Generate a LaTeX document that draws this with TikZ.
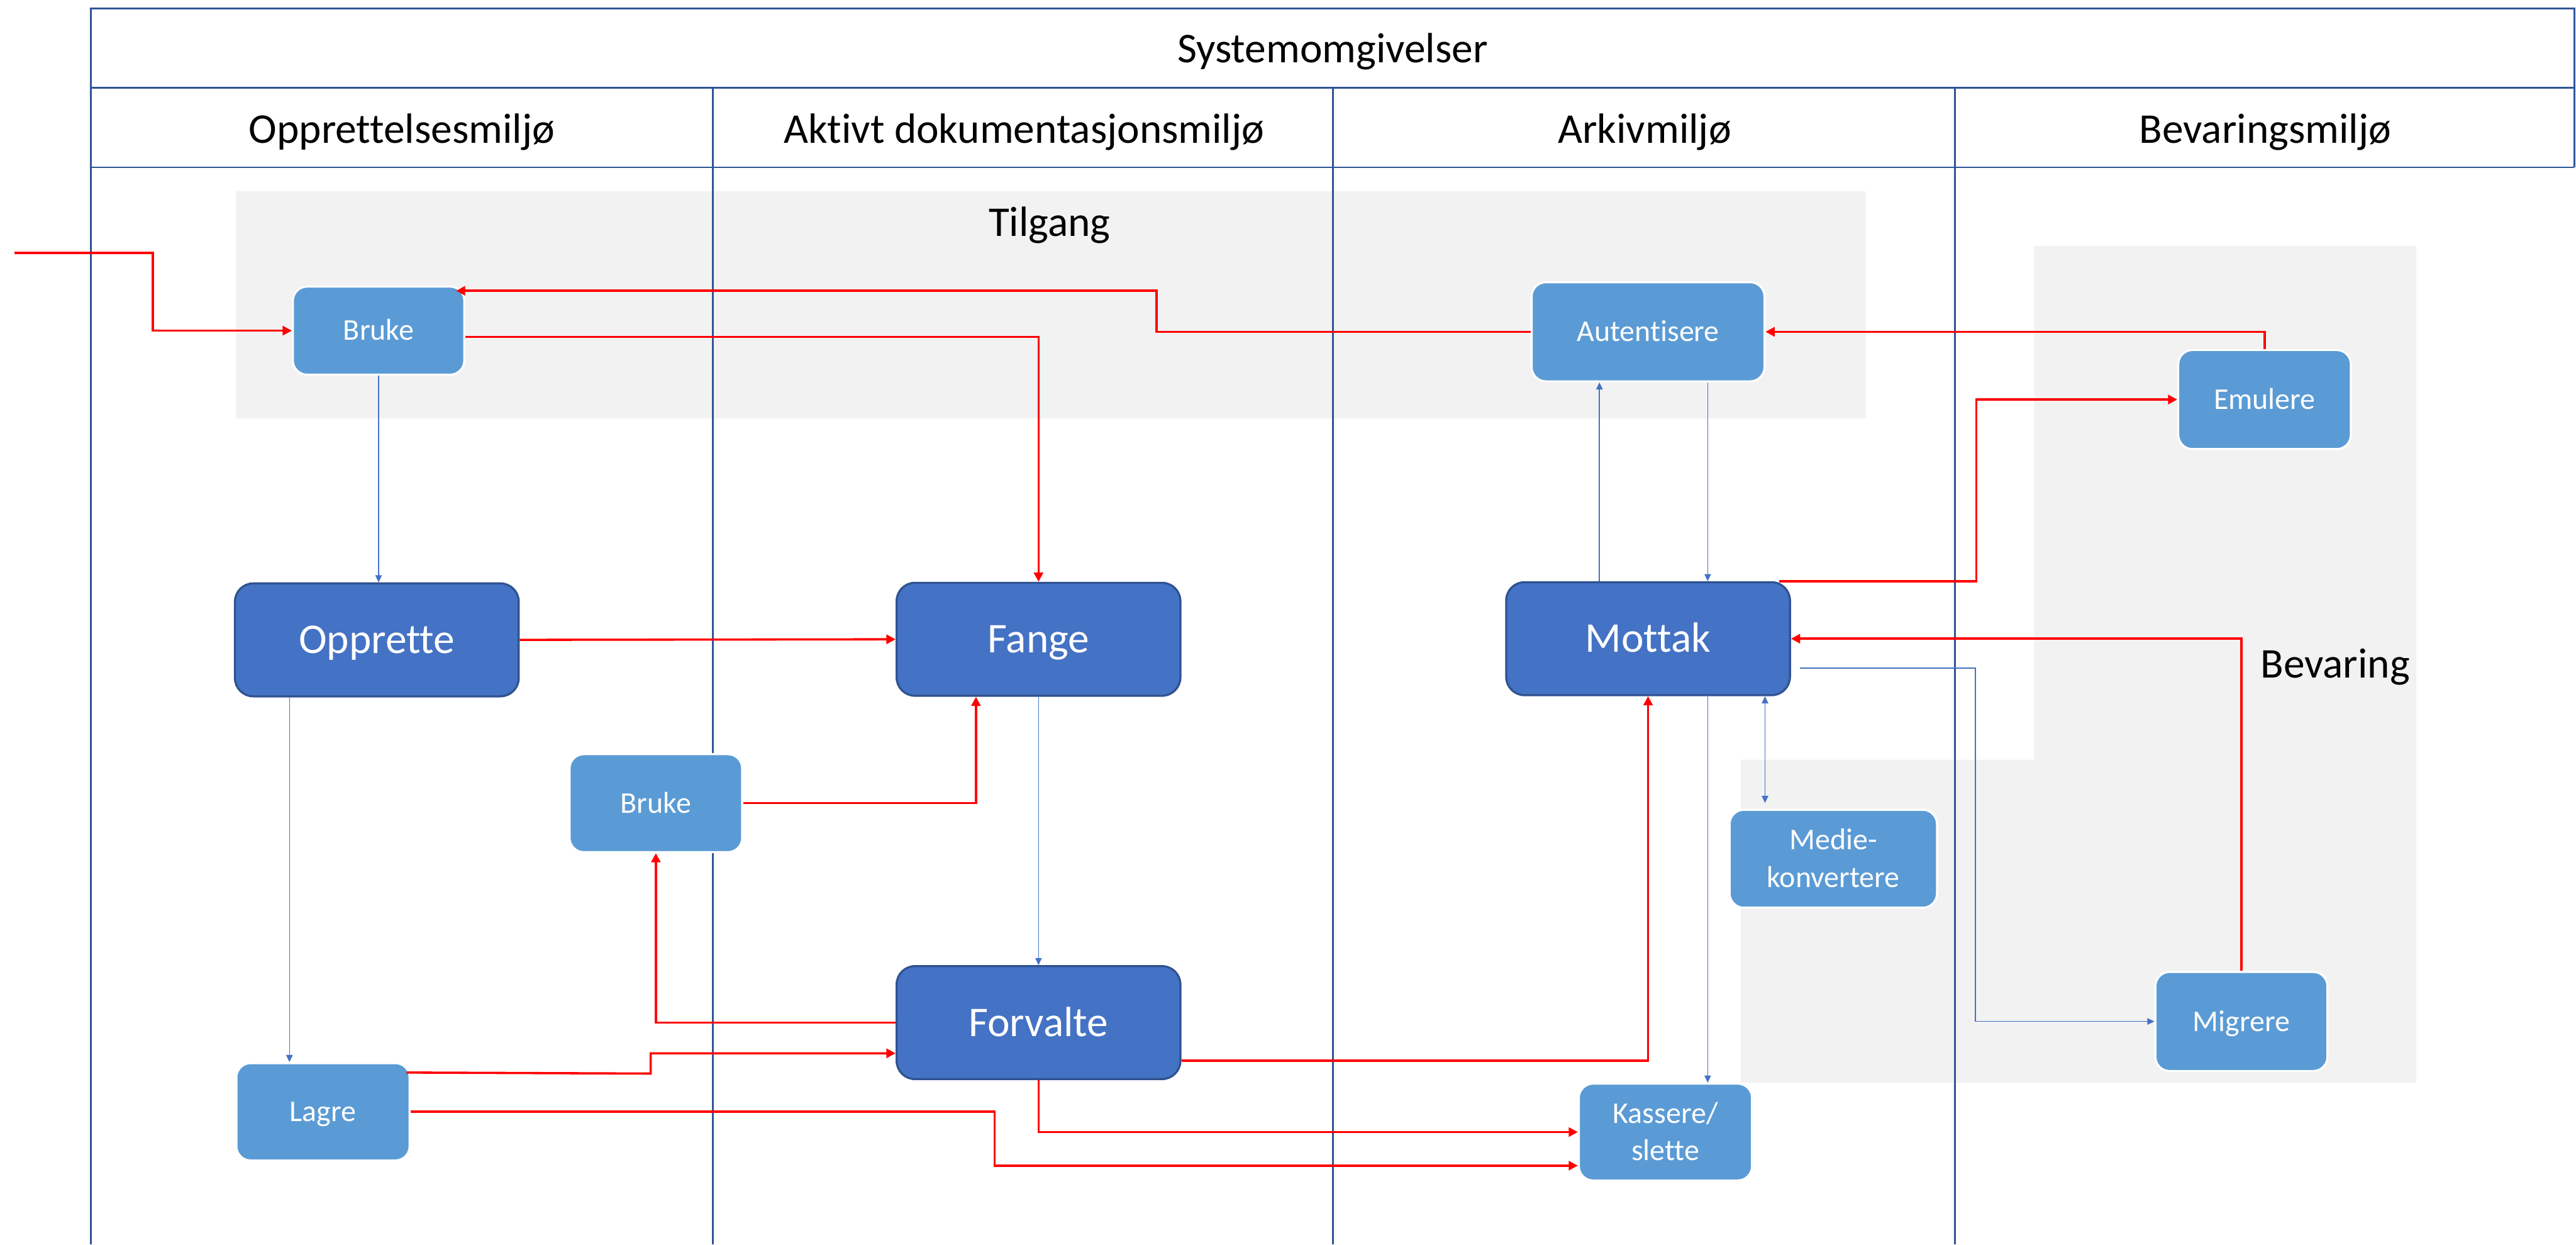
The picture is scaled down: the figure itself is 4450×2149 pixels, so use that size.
\documentclass[tikz,border=0pt]{standalone}
\usepackage{fontspec}
\setmainfont{Carlito}[Ligatures={NoCommon}]
\usetikzlibrary{arrows.meta,calc}
\definecolor{frameblue}{HTML}{2F5597}
\definecolor{boxlight}{HTML}{5B9BD5}
\definecolor{boxdark}{HTML}{4472C4}
\definecolor{boxdarkline}{HTML}{2F528F}
\definecolor{regiongray}{HTML}{F2F2F2}
\definecolor{conblue}{HTML}{4472C4}
\definecolor{conred}{HTML}{FF0000}
\begin{document}
\begin{tikzpicture}[x=0.01cm,y=-0.01cm,
 frameline/.style={draw=frameblue,line width=0.9pt},
 headtext/.style={font=\fontsize{20.8}{25}\selectfont,anchor=base,inner sep=0pt},
 smallbox/.style={rectangle,rounded corners=7pt,fill=boxlight,draw=white,line width=1pt,text=white,
   font=\fontsize{14.8}{18.3}\selectfont,align=center,text height=9.5pt,text depth=0pt,inner sep=0pt},
 twoline/.style={text height=27.8pt},
 bigbox/.style={rectangle,rounded corners=9pt,fill=boxdark,draw=boxdarkline,line width=1pt,text=white,
   font=\fontsize{20.8}{25}\selectfont,text height=13.4pt,text depth=0pt,inner sep=0pt,
   minimum width=4.9cm,minimum height=1.95cm},
 redcon/.style={draw=conred,line width=1.1pt,-{Triangle[length=4.5pt,width=4.5pt]}},
 bluecon/.style={draw=conblue,line width=0.45pt,-{Triangle[length=3.5pt,width=3.2pt]}},
 bluedbl/.style={draw=conblue,line width=0.45pt,{Triangle[length=3.5pt,width=3.2pt]}-{Triangle[length=3.5pt,width=3.2pt]}},
]
\useasboundingbox (0,0) rectangle (4450,2149);
% grey regions
\fill[regiongray] (407,330) rectangle (3223,723);
\fill[regiongray] (3514,425) -- (4174,425) -- (4174,1870) -- (3007,1870) -- (3007,1312) -- (3514,1312) -- cycle;
% frame
\draw[frameline] (157,2149) -- (157,15) -- (4447,15) -- (4447,289);
\draw[frameline] (157,152) -- (4447,152);
\draw[frameline] (157,289) -- (4447,289);
\foreach \x in {1231,2303,3377} \draw[frameline] (\x,152) -- (\x,2149);
% texts
\node[headtext] (title) at (2302,108) {Systemomgivelser};
\node[headtext] (h1) at (694,247) {Opprettelsesmiljø};
\node[headtext] (h2) at (1769,247) {Aktivt dokumentasjonsmiljø};
\node[headtext] (h3) at (2841,247) {Arkivmiljø};
\node[headtext] (h4) at (3913,247) {Bevaringsmiljø};
\node[headtext] (tilgang) at (1813,408) {Tilgang};
\node[headtext] (bevaring) at (4034,1171) {Bevaring};
% nodes
\node[smallbox,minimum width=2.96cm,minimum height=1.52cm] (bruke1) at (654,571) {Bruke};
\node[smallbox,minimum width=4.02cm,minimum height=1.71cm] (aut) at (2847,573) {Autentisere};
\node[smallbox,minimum width=2.98cm,minimum height=1.71cm] (emu) at (3912,690) {Emulere};
\node[bigbox] (opp) at (651,1105) {Opprette};
\node[bigbox] (fange) at (1794,1104) {Fange};
\node[bigbox] (mottak) at (2847,1103) {Mottak};
\node[smallbox,minimum width=2.98cm,minimum height=1.69cm] (bruke2) at (1133,1387) {Bruke};
\node[smallbox,twoline,minimum width=3.58cm,minimum height=1.69cm] (medie) at (3167,1483) {Medie-\\konvertere};
\node[bigbox] (forv) at (1794,1766) {Forvalte};
\node[smallbox,minimum width=2.99cm,minimum height=1.68cm] (lagre) at (558,1920) {Lagre};
\node[smallbox,twoline,minimum width=2.99cm,minimum height=1.67cm] (kass) at (2877,1955) {Kassere/\\slette};
\node[smallbox,minimum width=2.97cm,minimum height=1.71cm] (mig) at (3872,1764) {Migrere};
% red connectors
\coordinate (inA) at (25,437);
\draw[redcon] (inA) -- (264,437) |- (bruke1.west);
\draw[redcon] (aut.west) -- (1998,573) |- ($(bruke1.north east)+(-16,9)$);
\draw[redcon] ($(bruke1.east)+(0,11)$) -| (fange.north);
\draw[redcon] (emu.north) |- (aut.east);
\draw[redcon] ($(mottak.north east)+(-20,0)$) -| ($(emu.west)+(-347,0)$) -- (emu.west);
\draw[redcon] (mig.north) |- (mottak.east);
\draw[redcon] (opp.east) -- (fange.west);
\draw[redcon] (bruke2.east) -| ($(fange.south)+(-108,0)$);
\draw[redcon] (forv.west) -| (bruke2.south);
\draw[redcon] ($(lagre.north east)+(-7,18)$) -- (1124,1854) |- ($(forv.west)+(0,53)$);
\draw[redcon] (lagre.east) -- (1718,1920) |- ($(kass.west)+(0,58)$);
\draw[redcon] (forv.south) |- (kass.west);
\draw[redcon] ($(forv.east)+(0,66)$) -| (mottak.south);
% blue connectors
\draw[bluecon] (bruke1.south) -- (bruke1.south |- opp.north);
\draw[bluecon] ($(opp.south)+(-151,0)$) -- ($(lagre.north)+(-58,0)$);
\draw[bluecon] (fange.south) -- (forv.north);
\draw[bluecon] ($(mottak.north)+(-84,0)$) -- ($(aut.south)+(-84,0)$);
\draw[bluecon] ($(aut.south)+(103,0)$) -- ($(mottak.north)+(103,0)$);
\draw[bluecon] ($(mottak.south)+(103,0)$) -- ($(kass.north)+(73,0)$);
\draw[bluedbl] ($(mottak.south)+(202,0)$) -- ($(medie.north)+(-118,-10)$);
\draw[bluecon] ($(mottak.east)+(15,51)$) -| ($(mig.west)+(-309,0)$) -- (mig.west);
\end{tikzpicture}
\end{document}
